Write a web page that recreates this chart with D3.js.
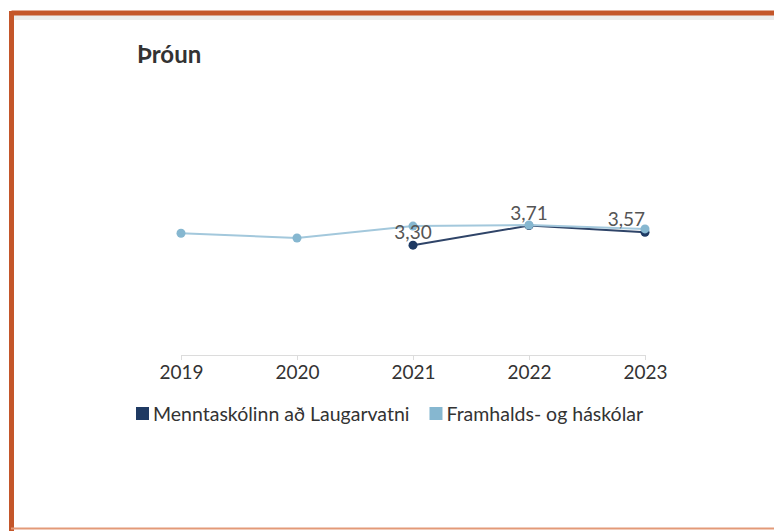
<!DOCTYPE html>
<html>
<head>
<meta charset="utf-8">
<script src="https://cdn.jsdelivr.net/npm/d3@7"></script>
<style>
  body { margin: 0; background: #fff; }
  svg { display: block; font-family: Lato, "Noto Sans", sans-serif; }
</style>
</head>
<body>
<div id="chart"></div>
<script>
// data
var years = ["2019", "2020", "2021", "2022", "2023"];
var seriesNames = ["Menntaskólinn að Laugarvatni", "Framhalds- og háskólar"];
var mlValues = [null, null, 3.30, 3.71, 3.57];
var allValues = [3.55, 3.45, 3.70, 3.72, 3.64];
var labelText = [null, null, "3,30", "3,71", "3,57"];
var colors = ["#1f3a63", "#86b7d0"];
var lineColors = ["#2f4468", "#a3c8dc"];

var W = 774, H = 531;

var svg = d3.select("#chart")
  .append("svg")
  .attr("width", W)
  .attr("height", H);

// frame
var frame = "#c4562a";
svg.append("rect").attr("x", 14).attr("y", 15).attr("width", 780).attr("height", 5)
  .attr("fill", "#ececec");
svg.append("line").attr("x1", 11.5).attr("x2", 800).attr("y1", 13).attr("y2", 13)
  .attr("stroke", frame).attr("stroke-width", 5);
svg.append("line").attr("x1", 11.5).attr("x2", 11.5).attr("y1", 11).attr("y2", 531)
  .attr("stroke", frame).attr("stroke-width", 5);
svg.append("line").attr("x1", 11).attr("x2", 800).attr("y1", 528.5).attr("y2", 528.5)
  .attr("stroke", "#e39a78").attr("stroke-width", 2);

svg.append("text")
  .attr("x", 137).attr("y", 63)
  .attr("font-size", 24).attr("font-weight", "bold")
  .attr("fill", "#333")
  .text("Þróun");

var xScale = d3.scalePoint().domain(years).range([181, 645]);
var yScale = d3.scaleLinear().domain([1, 5]).range([355, 164]);

var axis = svg.append("g")
  .attr("transform", "translate(0,355)")
  .call(d3.axisBottom(xScale).tickSize(5).tickSizeOuter(0).tickPadding(6));
axis.select(".domain").attr("stroke", "#dcdcdc");
axis.selectAll(".tick line").attr("stroke", "#dcdcdc");
axis.selectAll(".tick text")
  .attr("font-size", 19).attr("fill", "#333")
  .attr("font-family", "Lato, sans-serif");

var line = d3.line()
  .defined(function(d) { return d.v != null; })
  .x(function(d) { return xScale(d.year); })
  .y(function(d) { return yScale(d.v); });

function drawSeries(values, color, lineColor) {
  var data = years.map(function(y, i) { return { year: y, v: values[i] }; });
  svg.append("path")
    .datum(data)
    .attr("fill", "none")
    .attr("stroke", lineColor)
    .attr("stroke-width", 2)
    .attr("d", line);
  svg.selectAll(null)
    .data(data.filter(function(d) { return d.v != null; }))
    .enter().append("circle")
    .attr("cx", function(d) { return xScale(d.year); })
    .attr("cy", function(d) { return yScale(d.v); })
    .attr("r", 4.5)
    .attr("fill", color);
}

drawSeries(mlValues, colors[0], lineColors[0]);
drawSeries(allValues, colors[1], lineColors[1]);

// value labels for the school
svg.selectAll(".vlabel")
  .data(years.map(function(y, i) { return { year: y, v: mlValues[i], t: labelText[i], i: i }; })
    .filter(function(d) { return d.t; }))
  .enter().append("text")
  .attr("class", "vlabel")
  .attr("x", function(d) { return xScale(d.year) + (d.i == years.length - 1 ? 0 : 0); })
  .attr("y", function(d) { return yScale(d.v) - 6; })
  .attr("text-anchor", function(d) { return d.i == years.length - 1 ? "end" : "middle"; })
  .attr("font-size", 19)
  .attr("fill", "#555")
  .text(function(d) { return d.t; });

// legend
var lx = 136;
seriesNames.forEach(function(name, i) {
  svg.append("rect")
    .attr("x", lx).attr("y", 407)
    .attr("width", 13).attr("height", 13)
    .attr("fill", colors[i]);
  var t = svg.append("text")
    .attr("x", lx + 17).attr("y", 421)
    .attr("font-size", 19.5).attr("fill", "#333")
    .text(name);
  lx += 17 + t.node().getComputedTextLength() + 20;
});
</script>
</body>
</html>
